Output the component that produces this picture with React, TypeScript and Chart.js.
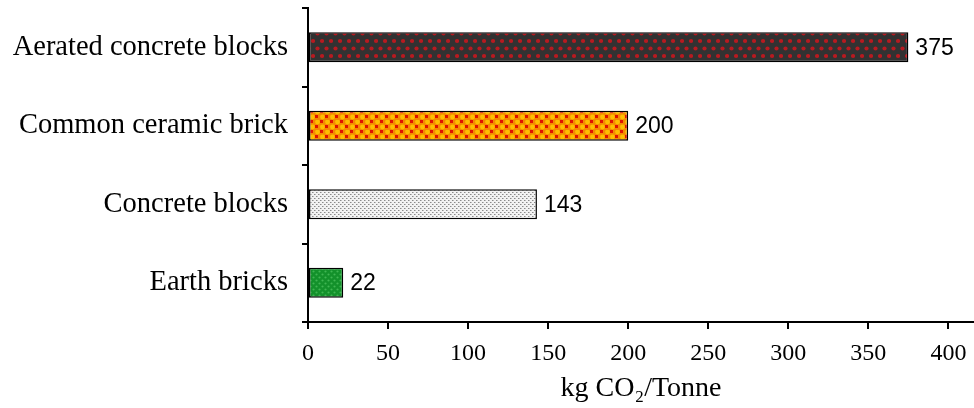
import React, { useEffect, useRef } from "react";
import { Chart, registerables } from "chart.js";

Chart.register(...registerables);

const categories = ["Aerated concrete blocks", "Common ceramic brick", "Concrete blocks", "Earth bricks"];
const values = [375, 200, 143, 22];
const xTicks = [0, 50, 100, 150, 200, 250, 300, 350, 400];
const axisTitle = "kg CO\u2082/Tonne";

function makePattern(kind: string): CanvasPattern | string {
  const c = document.createElement("canvas");
  const ctx = c.getContext("2d")!;
  if (kind === "dark") {
    c.width = 9; c.height = 15;
    ctx.fillStyle = "#323232"; ctx.fillRect(0, 0, 9, 15);
    ctx.fillStyle = "#b81a20";
    ctx.beginPath(); ctx.arc(2.5, 3.5, 2.1, 0, Math.PI * 2); ctx.fill();
    ctx.beginPath(); ctx.arc(7, 11, 2.1, 0, Math.PI * 2); ctx.fill();
  } else if (kind === "orange") {
    c.width = 10; c.height = 10;
    ctx.fillStyle = "#f48a00"; ctx.fillRect(0, 0, 10, 10);
    ctx.fillStyle = "#e01400";
    ctx.fillRect(0, 0, 3, 3); ctx.fillRect(5, 5, 3, 3);
    ctx.fillStyle = "#ffbf00";
    ctx.beginPath(); ctx.arc(7.5, 2, 2.4, 0, Math.PI * 2); ctx.fill();
    ctx.beginPath(); ctx.arc(2.5, 7, 2.4, 0, Math.PI * 2); ctx.fill();
  } else if (kind === "speckle") {
    c.width = 4; c.height = 4;
    ctx.fillStyle = "#f2f2f2"; ctx.fillRect(0, 0, 4, 4);
    ctx.fillStyle = "#8a8a8a";
    ctx.fillRect(0, 0, 1, 1); ctx.fillRect(2, 2, 1, 1);
    ctx.fillStyle = "#bdbdbd";
    ctx.fillRect(1, 0, 1, 1); ctx.fillRect(3, 2, 1, 1);
  } else {
    c.width = 6; c.height = 6;
    ctx.fillStyle = "#13912b"; ctx.fillRect(0, 0, 6, 6);
    ctx.fillStyle = "#3fb552";
    ctx.beginPath(); ctx.arc(1.5, 1.5, 1.1, 0, Math.PI * 2); ctx.fill();
    ctx.beginPath(); ctx.arc(4.5, 4.5, 1.1, 0, Math.PI * 2); ctx.fill();
  }
  return ctx.createPattern(c, "repeat")!;
}

const valueLabelPlugin = {
  id: "valueLabels",
  afterDatasetsDraw(chart: any) {
    const ctx = chart.ctx;
    const meta = chart.getDatasetMeta(0);
    ctx.save();
    ctx.fillStyle = "#000";
    ctx.font = "23px 'Liberation Sans', Arial, sans-serif";
    ctx.textAlign = "left";
    ctx.textBaseline = "middle";
    meta.data.forEach((bar: any, i: number) => {
      ctx.fillText(String(values[i]), bar.x + 7, bar.y + 1);
    });
    ctx.restore();
  },
};

export default function App() {
  const ref = useRef<HTMLCanvasElement>(null);
  useEffect(() => {
    document.body.style.margin = "0";
    const bg = ["dark", "orange", "speckle", "green"].map(makePattern);
    const chart = new Chart(ref.current!, {
      type: "bar",
      data: {
        labels: categories,
        datasets: [
          {
            data: values,
            backgroundColor: bg as any,
            borderColor: "#000",
            borderWidth: 1.5,
            borderSkipped: false,
            barPercentage: 0.38,
            categoryPercentage: 1,
          },
        ],
      },
      options: {
        indexAxis: "y",
        animation: false,
        responsive: false,
        layout: { padding: { top: 8, right: 0, left: 0, bottom: 0 } },
        plugins: { legend: { display: false }, tooltip: { enabled: false } },
        scales: {
          x: {
            min: 0,
            max: 416,
            afterBuildTicks: (s: any) => {
              s.ticks = xTicks.map((v) => ({ value: v }));
            },
            afterFit: (s: any) => {
              s.height = 86;
              s.paddingLeft = 0;
              s.paddingRight = 0;
            },
            grid: { drawOnChartArea: false, drawTicks: true, tickLength: 7, color: "#000", lineWidth: 2 },
            border: { display: true, color: "#000", width: 2 },
            ticks: {
              color: "#000",
              padding: 10,
              font: { family: "'Liberation Serif', 'Times New Roman', serif", size: 24 },
            },
            title: {
              display: true,
              text: axisTitle,
              color: "#000",
              padding: { top: 0, bottom: 3 },
              font: { family: "'Liberation Serif', 'Times New Roman', serif", size: 28 },
            },
          },
          y: {
            afterFit: (s: any) => {
              s.width = 308;
              s.paddingTop = 0;
              s.paddingBottom = 0;
            },
            grid: { drawOnChartArea: false, drawTicks: true, tickLength: 6, color: "#000", lineWidth: 2, offset: true },
            border: { display: true, color: "#000", width: 2 },
            ticks: {
              color: "#000",
              padding: 14,
              font: { family: "'Liberation Serif', 'Times New Roman', serif", size: 28.5 },
            },
          },
        },
      },
      plugins: [valueLabelPlugin],
    });
    return () => chart.destroy();
  }, []);
  return <canvas ref={ref} width={974} height={408} style={{ display: "block" }} />;
}
